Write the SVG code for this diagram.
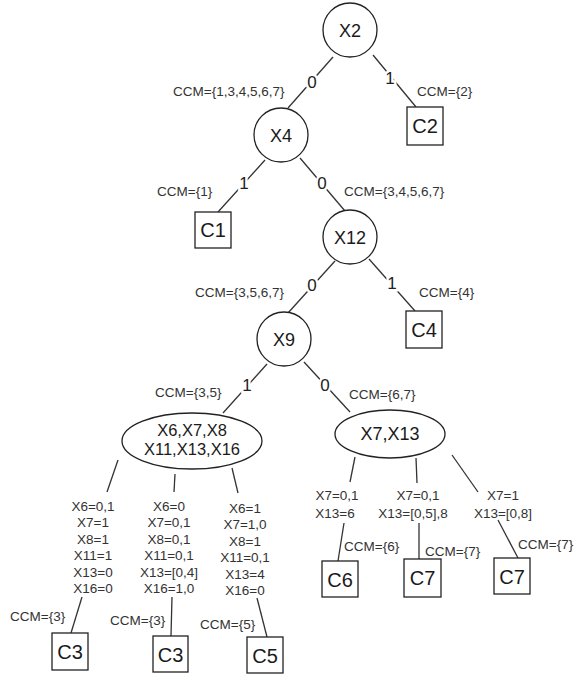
<svg xmlns="http://www.w3.org/2000/svg" width="574" height="675" viewBox="0 0 574 675">
<style>
  .shape{fill:#fff;stroke:#222;stroke-width:1.3}
  .edge{stroke:#333;stroke-width:1.3;fill:none}
  .nt{font-family:"Liberation Sans",Arial,sans-serif;font-size:18px;fill:#1a1a1a;text-anchor:middle}
  .et{font-family:"Liberation Sans",Arial,sans-serif;font-size:16.5px;fill:#1a1a1a;text-anchor:middle}
  .bt{font-family:"Liberation Sans",Arial,sans-serif;font-size:20px;fill:#1a1a1a;text-anchor:middle}
  .el{font-family:"Liberation Sans",Arial,sans-serif;font-size:17px;fill:#222;text-anchor:middle;stroke:#fff;stroke-width:5;paint-order:stroke}
  .ccm{font-family:"Liberation Sans",Arial,sans-serif;font-size:13.5px;fill:#333}
  .cond{font-family:"Liberation Sans",Arial,sans-serif;font-size:13.5px;fill:#333;text-anchor:middle}
</style>
<rect width="574" height="675" fill="#fff"/>
<g id="connectors">
  <line class="edge" x1="333" y1="57" x2="288" y2="108"/>
  <line class="edge" x1="373" y1="55" x2="416" y2="107"/>
  <line class="edge" x1="265" y1="160" x2="218" y2="212"/>
  <line class="edge" x1="300" y1="158" x2="345" y2="211"/>
  <line class="edge" x1="335" y1="261" x2="288" y2="313"/>
  <line class="edge" x1="369" y1="259" x2="415" y2="311"/>
  <line class="edge" x1="267" y1="364" x2="223" y2="413"/>
  <line class="edge" x1="304" y1="362" x2="350" y2="412"/>
  <line class="edge" x1="118" y1="460" x2="107" y2="492"/>
  <line class="edge" x1="175" y1="474" x2="174" y2="492"/>
  <line class="edge" x1="232" y1="468" x2="238" y2="493"/>
  <line class="edge" x1="82" y1="597" x2="71" y2="633"/>
  <line class="edge" x1="172" y1="597" x2="171" y2="636"/>
  <line class="edge" x1="257" y1="598" x2="267" y2="637"/>
  <line class="edge" x1="355" y1="457" x2="350" y2="482"/>
  <line class="edge" x1="416" y1="458" x2="417" y2="483"/>
  <line class="edge" x1="452" y1="455" x2="478" y2="492"/>
  <line class="edge" x1="344" y1="523" x2="338" y2="561"/>
  <line class="edge" x1="419" y1="523" x2="419" y2="559"/>
  <line class="edge" x1="498" y1="520" x2="518" y2="558"/>
  <text class="el" x="312" y="88">0</text>
  <text class="el" x="390" y="84">1</text>
  <text class="el" x="244" y="189">1</text>
  <text class="el" x="322" y="189">0</text>
  <text class="el" x="312" y="291">0</text>
  <text class="el" x="392" y="289">1</text>
  <text class="el" x="247" y="391">1</text>
  <text class="el" x="325" y="391">0</text>
  <text class="ccm" x="173" y="96">CCM={1,3,4,5,6,7}</text>
  <text class="ccm" x="417" y="96">CCM={2}</text>
  <text class="ccm" x="157" y="196">CCM={1}</text>
  <text class="ccm" x="344" y="196">CCM={3,4,5,6,7}</text>
  <text class="ccm" x="195" y="297">CCM={3,5,6,7}</text>
  <text class="ccm" x="419" y="297">CCM={4}</text>
  <text class="ccm" x="155" y="397">CCM={3,5}</text>
  <text class="ccm" x="349" y="399">CCM={6,7}</text>
  <text class="ccm" x="10" y="621">CCM={3}</text>
  <text class="ccm" x="110" y="625">CCM={3}</text>
  <text class="ccm" x="200" y="629">CCM={5}</text>
  <text class="ccm" x="344" y="551">CCM={6}</text>
  <text class="ccm" x="425" y="556">CCM={7}</text>
  <text class="ccm" x="518" y="549">CCM={7}</text>
  <text class="cond" x="93" y="511"><tspan x="93">X6=0,1</tspan><tspan x="93" dy="16.4">X7=1</tspan><tspan x="93" dy="16.4">X8=1</tspan><tspan x="93" dy="16.4">X11=1</tspan><tspan x="93" dy="16.4">X13=0</tspan><tspan x="93" dy="16.4">X16=0</tspan></text>
  <text class="cond" x="169" y="511"><tspan x="169">X6=0</tspan><tspan x="169" dy="16.4">X7=0,1</tspan><tspan x="169" dy="16.4">X8=0,1</tspan><tspan x="169" dy="16.4">X11=0,1</tspan><tspan x="169" dy="16.4">X13=[0,4]</tspan><tspan x="169" dy="16.4">X16=1,0</tspan></text>
  <text class="cond" x="245" y="513"><tspan x="245">X6=1</tspan><tspan x="245" dy="16.4">X7=1,0</tspan><tspan x="245" dy="16.4">X8=1</tspan><tspan x="245" dy="16.4">X11=0,1</tspan><tspan x="245" dy="16.4">X13=4</tspan><tspan x="245" dy="16.4">X16=0</tspan></text>
  <text class="cond" x="337" y="500"><tspan x="337">X7=0,1</tspan><tspan x="335" dy="18">X13=6</tspan></text>
  <text class="cond" x="418" y="500"><tspan x="418">X7=0,1</tspan><tspan x="413" dy="18">X13=[0,5],8</tspan></text>
  <text class="cond" x="503" y="500"><tspan x="503">X7=1</tspan><tspan x="503" dy="18">X13=[0,8]</tspan></text>
</g>
<g id="X2"><circle class="shape" cx="350" cy="30" r="27"/><text class="nt" x="350" y="37">X2</text></g>
<g id="X4"><circle class="shape" cx="281" cy="135" r="27"/><text class="nt" x="281" y="142">X4</text></g>
<g id="C2"><rect class="shape" x="407" y="107" width="36" height="38"/><text class="bt" x="425" y="133">C2</text></g>
<g id="C1"><rect class="shape" x="195" y="212" width="36" height="36"/><text class="bt" x="213" y="237">C1</text></g>
<g id="X12"><circle class="shape" cx="350" cy="237" r="27"/><text class="nt" x="350" y="244">X12</text></g>
<g id="C4"><rect class="shape" x="406" y="311" width="36" height="37"/><text class="bt" x="424" y="337">C4</text></g>
<g id="X9"><circle class="shape" cx="284" cy="339" r="27"/><text class="nt" x="284" y="346">X9</text></g>
<g id="E1"><ellipse class="shape" cx="192" cy="441" rx="70" ry="28"/><text class="et" x="192" y="436">X6,X7,X8</text><text class="et" x="192" y="455">X11,X13,X16</text></g>
<g id="E2"><ellipse class="shape" cx="390" cy="434" rx="55" ry="24"/><text class="nt" x="390" y="440">X7,X13</text></g>
<g id="C3a"><rect class="shape" x="52" y="633" width="36" height="37"/><text class="bt" x="70" y="659">C3</text></g>
<g id="C3b"><rect class="shape" x="153" y="636" width="35" height="36"/><text class="bt" x="170.5" y="662">C3</text></g>
<g id="C5"><rect class="shape" x="247" y="637" width="36" height="36"/><text class="bt" x="265" y="663">C5</text></g>
<g id="C6"><rect class="shape" x="322" y="561" width="36" height="36"/><text class="bt" x="340" y="587">C6</text></g>
<g id="C7a"><rect class="shape" x="404" y="559" width="37" height="38"/><text class="bt" x="422.5" y="585">C7</text></g>
<g id="C7b"><rect class="shape" x="494" y="558" width="36" height="36"/><text class="bt" x="512" y="584">C7</text></g>
</svg>
